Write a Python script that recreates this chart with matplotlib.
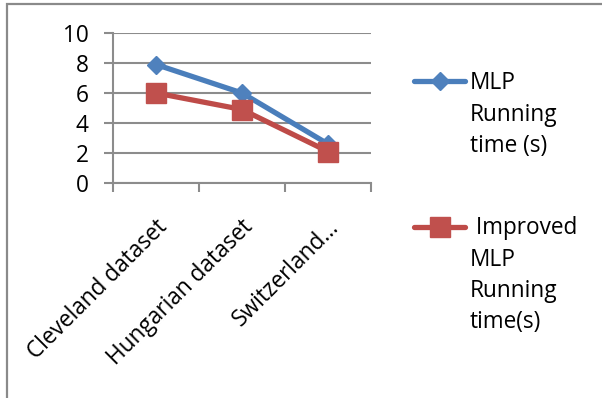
import matplotlib
matplotlib.use("Agg")
import matplotlib.pyplot as plt
from matplotlib.lines import Line2D
from matplotlib.patches import Rectangle
from matplotlib.transforms import ScaledTranslation

plt.rcParams['font.family'] = ['Open Sans', 'DejaVu Sans']

categories = ["Cleveland dataset", "Hungarian dataset", "Switzerland…"]
mlp_time = [7.9, 6.0, 2.6]
improved_time = [6.0, 4.9, 2.1]
y_ticks = [0, 2, 4, 6, 8, 10]
legend_labels = ["MLP\nRunning\ntime (s)", " Improved\nMLP\nRunning\ntime(s)"]

BLUE_LINE, BLUE_MARK = "#4A7EBB", "#4F81BD"
RED_LINE, RED_MARK = "#BE4B48", "#C0504D"
GRID = "#8C8C8C"
FS = 16.3

W, H = 602, 398
fig = plt.figure(figsize=(W / 100, H / 100), dpi=100)


def fx(px):
    return px / W


def fy(py):
    return 1 - py / H


# outer chart frame (top and left edges visible)
fig.patches.append(Rectangle((fx(7), fy(H + 10)), fx(W + 10), fy(4) - fy(H + 10),
                             transform=fig.transFigure, fill=False,
                             edgecolor="#8A8A8A", linewidth=1.6))

ax = fig.add_axes([fx(113), fy(183), fx(371) - fx(113), fy(33) - fy(183)])
x = list(range(len(categories)))

ax.plot(x, mlp_time, color=BLUE_LINE, linewidth=3.8, marker='D', markersize=9.5,
        markerfacecolor=BLUE_MARK, markeredgecolor=BLUE_MARK, zorder=3,
        solid_capstyle='round')
ax.plot(x, improved_time, color=RED_LINE, linewidth=3.8, marker='s', markersize=14,
        markerfacecolor=RED_MARK, markeredgecolor=RED_MARK, zorder=4,
        solid_capstyle='round')

ax.set_xlim(-0.5, len(categories) - 0.5)
ax.set_ylim(0, 10)
ax.set_yticks(y_ticks)
ax.set_yticklabels([str(v) for v in y_ticks], fontsize=FS)
ax.yaxis.grid(True, color=GRID, linewidth=1.5)
ax.set_axisbelow(True)
ax.tick_params(axis='y', direction='out', length=6.5, width=1.5, color=GRID, pad=11)

ax.set_xticks(x)
ax.set_xticklabels(categories, fontsize=FS, rotation=45, ha='right', va='top',
                   rotation_mode='anchor')
ax.set_xticks([i - 0.5 for i in range(len(categories) + 1)], minor=True)
ax.tick_params(axis='x', which='major', length=0, pad=23)
ax.tick_params(axis='x', which='minor', direction='out', length=6.5, width=1.5, color=GRID)
for lbl in ax.get_xticklabels():
    lbl.set_transform(lbl.get_transform() + ScaledTranslation(-0.01, 0, fig.dpi_scale_trans))

for side in ("top", "right"):
    ax.spines[side].set_visible(False)
for side in ("left", "bottom"):
    ax.spines[side].set_color(GRID)
    ax.spines[side].set_linewidth(1.5)

# legend, drawn entry by entry to the right of the plot
entries = [
    (80.7, 89.3, BLUE_LINE, BLUE_MARK, 'D', 9.5, legend_labels[0]),
    (226.7, 234.0, RED_LINE, RED_MARK, 's', 14, legend_labels[1]),
]
LINE_STEP = 31.5
for ly, base, lc, mc, mk, ms, text in entries:
    fig.add_artist(Line2D([fx(414), fx(465)], [fy(ly), fy(ly)], transform=fig.transFigure,
                          color=lc, linewidth=3.8, solid_capstyle='round'))
    fig.add_artist(Line2D([fx(439.5)], [fy(ly)], transform=fig.transFigure, marker=mk,
                          markersize=ms, markerfacecolor=mc, markeredgecolor=mc))
    for i, row in enumerate(text.split("\n")):
        fig.text(fx(470), fy(base + i * LINE_STEP), row, fontsize=FS,
                 ha='left', va='baseline')

fig.savefig("out.png", dpi=100, facecolor="white")
